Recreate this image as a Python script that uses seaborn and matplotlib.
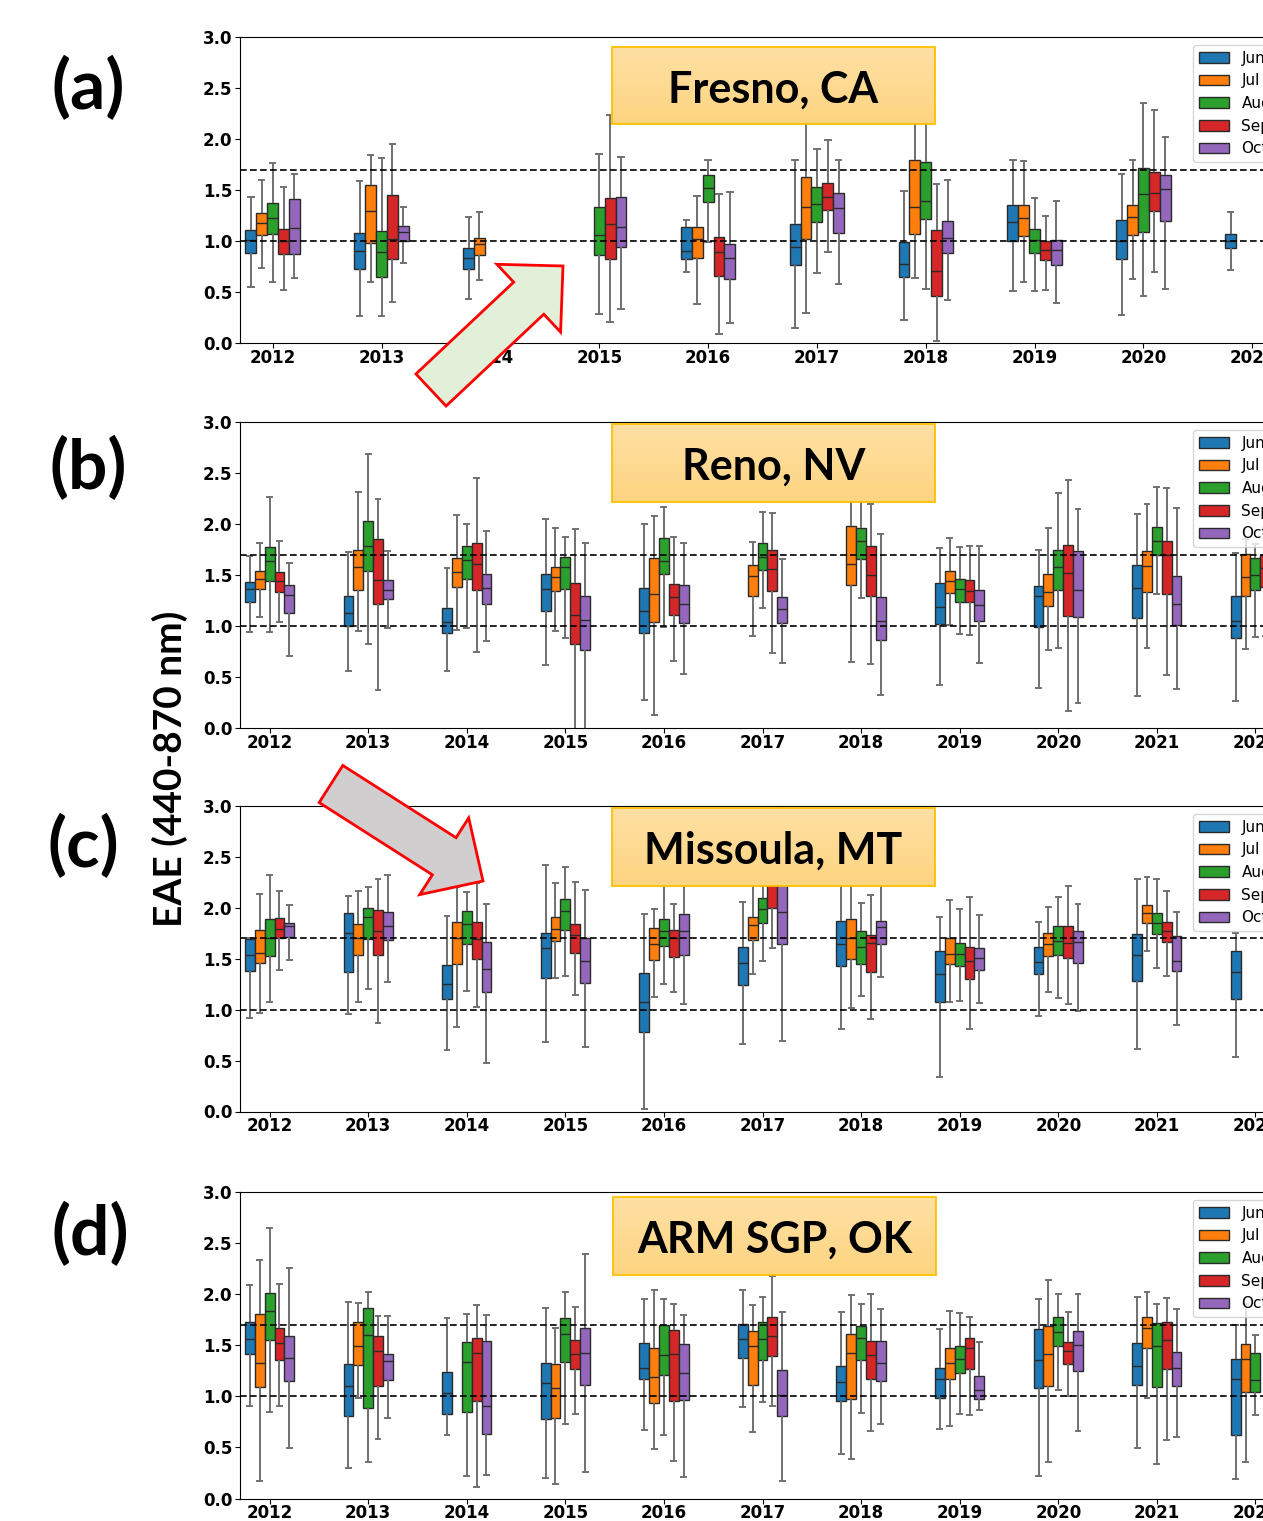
import numpy as np
import pandas as pd
import matplotlib
matplotlib.use("Agg")
import matplotlib.pyplot as plt
from matplotlib.patches import FancyArrow, Rectangle
import seaborn as sns

# ---------------------------------------------------------------- data
MONTHS = ["Jun", "Jul", "Aug", "Sep", "Oct"]
PALETTE = ["#1f77b4", "#ff7f0e", "#2ca02c", "#d62728", "#9467bd"]
YEARS_A = [str(y) for y in range(2012, 2022)]
YEARS_B = [str(y) for y in range(2012, 2023)]
YEARS_C = [str(y) for y in range(2012, 2023)]
YEARS_D = [str(y) for y in range(2012, 2023)]
TITLES = ["Fresno, CA", "Reno, NV", "Missoula, MT", "ARM SGP, OK"]
PANEL_LABELS = ["(a)", "(b)", "(c)", "(d)"]
Y_LABEL = "EAE (440-870 nm)"
Y_TICKS = [0.0, 0.5, 1.0, 1.5, 2.0, 2.5, 3.0]
REF_LINES = [1.0, 1.7]

# each entry: (lower whisker, Q1, median, Q3, upper whisker); None = no data
FRESNO_JUN = [(0.55, 0.88, 1.01, 1.11, 1.43), (0.26, 0.73, 0.90, 1.08, 1.59), (0.43, 0.73, 0.83, 0.93, 1.24), None,
              (0.70, 0.82, 0.90, 1.14, 1.21), (0.15, 0.76, 0.94, 1.17, 1.79), (0.23, 0.65, 0.77, 0.99, 1.49),
              (0.51, 1.00, 1.19, 1.35, 1.79), (0.27, 0.82, 1.00, 1.21, 1.66), (0.72, 0.93, 1.00, 1.07, 1.28)]
FRESNO_JUL = [(0.74, 1.06, 1.18, 1.27, 1.60), (0.60, 0.98, 1.29, 1.55, 1.84), (0.62, 0.86, 0.97, 1.03, 1.28), None,
              (0.38, 0.83, 1.02, 1.14, 1.44), (0.29, 1.02, 1.33, 1.63, 2.35), (0.64, 1.07, 1.33, 1.79, 2.30),
              (0.60, 1.05, 1.23, 1.35, 1.78), (0.63, 1.06, 1.24, 1.35, 1.79), None]
FRESNO_AUG = [(0.60, 1.07, 1.23, 1.37, 1.76), (0.26, 0.65, 0.89, 1.10, 1.81), None, (0.28, 0.86, 1.06, 1.33, 1.85),
              (0.99, 1.38, 1.52, 1.65, 1.79), (0.69, 1.19, 1.36, 1.53, 1.90), (0.53, 1.22, 1.39, 1.77, 2.25),
              (0.51, 0.88, 1.01, 1.12, 1.42), (0.46, 1.09, 1.46, 1.72, 2.35), None]
FRESNO_SEP = [(0.52, 0.87, 1.00, 1.12, 1.53), (0.40, 0.82, 1.02, 1.45, 1.95), None, (0.21, 0.82, 1.17, 1.42, 2.24),
              (0.09, 0.66, 0.89, 1.04, 1.46), (0.89, 1.30, 1.43, 1.57, 1.99), (0.02, 0.46, 0.71, 1.11, 1.56),
              (0.52, 0.81, 0.91, 1.00, 1.25), (0.70, 1.29, 1.47, 1.68, 2.28), None]
FRESNO_OCT = [(0.64, 0.87, 1.13, 1.41, 1.66), (0.78, 1.00, 1.09, 1.15, 1.33), None, (0.33, 0.94, 1.14, 1.43, 1.82),
              (0.20, 0.63, 0.83, 0.97, 1.48), (0.58, 1.08, 1.32, 1.47, 1.79), (0.42, 0.88, 1.03, 1.20, 1.60),
              (0.39, 0.76, 0.91, 1.01, 1.39), (0.53, 1.20, 1.51, 1.65, 2.02), None]

RENO_JUN = [(0.94, 1.24, 1.36, 1.43, 1.69), (0.56, 1.00, 1.13, 1.29, 1.73), (0.56, 0.93, 1.04, 1.18, 1.57),
            (0.62, 1.15, 1.36, 1.51, 2.05), (0.27, 0.93, 1.15, 1.37, 2.00), None, None,
            (0.42, 1.02, 1.19, 1.42, 1.76), (0.39, 0.99, 1.29, 1.39, 1.75), (0.31, 1.08, 1.37, 1.60, 2.10),
            (0.26, 0.88, 1.05, 1.29, 1.72)]
RENO_JUL = [(1.09, 1.36, 1.46, 1.54, 1.81), (0.95, 1.35, 1.58, 1.75, 2.31), (0.96, 1.38, 1.53, 1.67, 2.09),
            (0.95, 1.34, 1.48, 1.58, 1.96), (0.13, 1.04, 1.31, 1.67, 2.08), (0.90, 1.29, 1.49, 1.60, 1.82),
            (0.65, 1.40, 1.61, 1.98, 2.40), (1.01, 1.32, 1.44, 1.54, 1.86), (0.76, 1.20, 1.33, 1.51, 1.96),
            (0.78, 1.33, 1.59, 1.74, 2.20), (0.77, 1.29, 1.48, 1.71, 1.85)]
RENO_AUG = [(0.94, 1.44, 1.64, 1.77, 2.26), (0.82, 1.54, 1.78, 2.03, 2.69), (0.98, 1.46, 1.65, 1.78, 2.00),
            (0.88, 1.36, 1.58, 1.68, 1.87), (0.99, 1.51, 1.64, 1.86, 2.17), (1.18, 1.55, 1.68, 1.81, 2.12),
            (1.27, 1.66, 1.83, 1.96, 2.35), (0.92, 1.24, 1.36, 1.46, 1.77), (0.78, 1.35, 1.58, 1.75, 2.30),
            (1.31, 1.70, 1.83, 1.97, 2.36), (0.89, 1.35, 1.50, 1.67, 1.80)]
RENO_SEP = [(1.04, 1.33, 1.44, 1.53, 1.83), (0.37, 1.22, 1.45, 1.85, 2.25), (0.75, 1.35, 1.61, 1.81, 2.45),
            (-0.05, 0.82, 1.11, 1.42, 1.95), (0.66, 1.11, 1.28, 1.41, 1.87), (0.74, 1.34, 1.56, 1.75, 2.11),
            (0.63, 1.29, 1.50, 1.78, 2.20), (0.91, 1.24, 1.34, 1.45, 1.78), (0.17, 1.10, 1.52, 1.79, 2.43),
            (0.52, 1.31, 1.70, 1.83, 2.35), (0.90, 1.38, 1.57, 1.70, 1.90)]
RENO_OCT = [(0.71, 1.13, 1.30, 1.40, 1.62), (0.98, 1.26, 1.35, 1.45, 1.74), (0.85, 1.22, 1.37, 1.51, 1.93),
            (-0.05, 0.76, 1.06, 1.29, 1.81), (0.53, 1.03, 1.22, 1.40, 1.81), (0.64, 1.03, 1.17, 1.28, 1.66),
            (0.32, 0.86, 1.05, 1.28, 1.90), (0.64, 1.05, 1.21, 1.35, 1.78), (0.25, 1.09, 1.35, 1.74, 2.15),
            (0.38, 1.01, 1.22, 1.49, 2.16), None]

MISSOULA_JUN = [(0.92, 1.38, 1.54, 1.69, 1.70), (0.96, 1.37, 1.75, 1.95, 2.12), (0.60, 1.10, 1.25, 1.44, 1.92),
                (0.68, 1.31, 1.61, 1.75, 2.42), (0.02, 0.78, 1.08, 1.36, 1.94), (0.66, 1.24, 1.46, 1.62, 2.06),
                (0.81, 1.43, 1.64, 1.87, 2.30), (0.34, 1.08, 1.35, 1.58, 1.91), (0.94, 1.35, 1.47, 1.62, 1.86),
                (0.61, 1.28, 1.54, 1.74, 2.28), (0.54, 1.10, 1.37, 1.58, 1.75)]
MISSOULA_JUL = [(0.97, 1.46, 1.56, 1.78, 2.14), (1.08, 1.54, 1.70, 1.84, 2.17), (0.83, 1.45, 1.70, 1.86, 2.20),
                (1.31, 1.67, 1.79, 1.91, 2.24), (1.12, 1.49, 1.64, 1.80, 1.99), (1.35, 1.68, 1.83, 1.91, 2.45),
                (1.02, 1.50, 1.70, 1.89, 2.40), (1.08, 1.45, 1.55, 1.70, 2.08), (1.17, 1.53, 1.64, 1.75, 2.01),
                (1.58, 1.85, 1.95, 2.03, 2.30), None]
MISSOULA_AUG = [(1.08, 1.53, 1.70, 1.89, 2.32), (1.20, 1.69, 1.91, 2.00, 2.20), (1.18, 1.64, 1.84, 1.97, 2.16),
                (1.33, 1.78, 1.97, 2.09, 2.40), (1.25, 1.63, 1.77, 1.89, 2.25), (1.48, 1.85, 1.99, 2.10, 2.60),
                (1.13, 1.45, 1.62, 1.77, 2.05), (1.09, 1.43, 1.55, 1.65, 1.99), (1.11, 1.54, 1.67, 1.82, 2.11),
                (1.41, 1.74, 1.85, 1.95, 2.28), None]
MISSOULA_SEP = [(1.39, 1.70, 1.79, 1.90, 2.17), (0.87, 1.54, 1.77, 1.98, 2.28), (1.03, 1.50, 1.69, 1.86, 2.24),
                (1.14, 1.56, 1.73, 1.84, 2.25), (1.17, 1.52, 1.70, 1.78, 2.04), (1.61, 2.00, 2.30, 2.55, 2.90),
                (0.91, 1.37, 1.65, 1.73, 2.13), (0.81, 1.30, 1.48, 1.62, 2.11), (1.06, 1.51, 1.65, 1.82, 2.21),
                (1.33, 1.66, 1.77, 1.86, 2.17), None]
MISSOULA_OCT = [(1.49, 1.71, 1.82, 1.85, 2.03), (1.27, 1.68, 1.82, 1.96, 2.32), (0.48, 1.17, 1.40, 1.66, 2.04),
                (0.63, 1.26, 1.48, 1.70, 2.18), (1.06, 1.54, 1.77, 1.94, 2.30), (0.69, 1.64, 1.96, 2.30, 3.00),
                (1.32, 1.64, 1.81, 1.87, 2.25), (1.07, 1.39, 1.51, 1.61, 1.93), (0.99, 1.46, 1.66, 1.77, 2.04),
                (0.85, 1.38, 1.48, 1.72, 1.96), None]

SGP_JUN = [(0.91, 1.41, 1.56, 1.73, 2.09), (0.30, 0.81, 1.10, 1.32, 1.92), (0.62, 0.83, 1.03, 1.24, 1.77),
           (0.20, 0.78, 1.13, 1.33, 1.86), (0.67, 1.17, 1.28, 1.52, 1.95), (0.90, 1.38, 1.56, 1.71, 2.04),
           (0.44, 0.95, 1.14, 1.30, 1.83), (0.68, 0.98, 1.17, 1.28, 1.66), (0.22, 1.08, 1.36, 1.66, 1.95),
           (0.49, 1.11, 1.30, 1.52, 1.97), (0.19, 0.62, 1.17, 1.37, 1.70)]
SGP_JUL = [(0.17, 1.09, 1.33, 1.81, 2.33), (0.98, 1.31, 1.49, 1.73, 1.91), None,
           (0.14, 0.79, 1.08, 1.32, 1.67), (0.48, 0.93, 1.19, 1.47, 2.04), (0.65, 1.11, 1.49, 1.64, 1.89),
           (0.39, 0.97, 1.42, 1.61, 1.99), (0.71, 1.17, 1.33, 1.47, 1.84), (0.36, 1.10, 1.41, 1.69, 2.14),
           (0.98, 1.47, 1.67, 1.78, 2.02), (0.36, 1.04, 1.37, 1.51, 1.90)]
SGP_AUG = [(0.85, 1.55, 1.84, 2.01, 2.65), (0.36, 0.89, 1.60, 1.86, 2.02), (0.22, 0.85, 1.34, 1.53, 1.81),
           (0.73, 1.34, 1.61, 1.77, 2.02), (0.62, 1.21, 1.40, 1.70, 1.95), (0.94, 1.36, 1.56, 1.73, 1.97),
           (0.84, 1.36, 1.57, 1.69, 1.90), (0.83, 1.23, 1.37, 1.49, 1.82), (1.06, 1.49, 1.63, 1.78, 2.00),
           (0.34, 1.09, 1.49, 1.72, 1.90), (0.82, 1.04, 1.16, 1.42, 1.60)]
SGP_SEP = [(0.91, 1.36, 1.52, 1.67, 2.10), (0.58, 1.10, 1.44, 1.59, 1.79), (0.11, 0.95, 1.42, 1.57, 1.89),
           (0.83, 1.27, 1.41, 1.55, 1.87), (0.37, 0.95, 1.41, 1.65, 1.90), (0.91, 1.39, 1.59, 1.78, 2.18),
           (0.66, 1.17, 1.40, 1.54, 2.00), (0.82, 1.27, 1.47, 1.57, 1.78), (1.00, 1.32, 1.44, 1.53, 1.83),
           (0.57, 1.27, 1.55, 1.73, 1.96), None]
SGP_OCT = [(0.49, 1.15, 1.38, 1.59, 2.26), (0.79, 1.16, 1.35, 1.41, 1.79), (0.23, 0.63, 0.91, 1.54, 1.80),
           (0.26, 1.11, 1.42, 1.67, 2.39), (0.21, 0.96, 1.23, 1.51, 1.80), (0.17, 0.81, 1.01, 1.26, 1.83),
           (0.73, 1.15, 1.33, 1.54, 1.85), (0.87, 0.97, 1.06, 1.20, 1.53), (0.66, 1.25, 1.50, 1.64, 2.00),
           (0.60, 1.10, 1.28, 1.43, 1.85), None]

PANELS = [
    (YEARS_A, [FRESNO_JUN, FRESNO_JUL, FRESNO_AUG, FRESNO_SEP, FRESNO_OCT]),
    (YEARS_B, [RENO_JUN, RENO_JUL, RENO_AUG, RENO_SEP, RENO_OCT]),
    (YEARS_C, [MISSOULA_JUN, MISSOULA_JUL, MISSOULA_AUG, MISSOULA_SEP, MISSOULA_OCT]),
    (YEARS_D, [SGP_JUN, SGP_JUL, SGP_AUG, SGP_SEP, SGP_OCT]),
]


def long_frame(years, series):
    rows = []
    for month, stats in zip(MONTHS, series):
        for year, s in zip(years, stats):
            if s is None:
                continue
            for v in s:
                rows.append((year, month, v))
    return pd.DataFrame(rows, columns=["year", "month", "EAE"])


# ---------------------------------------------------------------- layout
W, H = 1263, 1521
fig = plt.figure(figsize=(W / 100, H / 100), dpi=100)

AX_LEFT, AX_RIGHT = 240, 1285          # pixel positions of axes edges
PANEL_Y = [(37, 343), (422, 728), (806, 1111.5), (1192, 1498.5)]  # (top, bottom) pixels

LABEL_FONT = ["Lato", "DejaVu Sans"]

for i, ((years, series), (ytop, ybot)) in enumerate(zip(PANELS, PANEL_Y)):
    ax = fig.add_axes([AX_LEFT / W, 1 - ybot / H, (AX_RIGHT - AX_LEFT) / W, (ybot - ytop) / H])
    df = long_frame(years, series)
    sns.boxplot(data=df, x="year", y="EAE", hue="month", order=years, hue_order=MONTHS,
                palette=PALETTE, saturation=1, width=0.5, whis=(0, 100), fliersize=0,
                linewidth=1.0, linecolor="#2a2a2a", ax=ax,
                whiskerprops=dict(color="#707070", linewidth=1.4),
                capprops=dict(color="#707070", linewidth=1.4))
    for yv in REF_LINES:
        ax.axhline(yv, color="black", ls=(0, (4, 2)), lw=1.2, zorder=5)
    ax.set_ylim(0, 3)
    ax.set_xlim(-0.3, len(years) - 0.7)
    ax.set_yticks(Y_TICKS)
    ax.set_yticklabels([f"{t:.1f}" for t in Y_TICKS])
    ax.set_xlabel("")
    ax.set_ylabel("")
    ax.tick_params(labelsize=12)
    ax.tick_params(axis="x", pad=0.5)
    ax.tick_params(axis="y", pad=2.0)
    for lab in ax.get_xticklabels() + ax.get_yticklabels():
        lab.set_fontweight("bold")
    handles, labels = ax.get_legend_handles_labels()
    ax.legend(handles, labels, loc="upper right", fontsize=11)

# ---------------------------------------------------------------- overlay (annotations)
ov = fig.add_axes([0, 0, 1, 1], zorder=20)
ov.patch.set_visible(False)
ov.axis("off")

TITLE_BOXES = [(612, 47, 935, 124), (612, 424, 935, 502), (612, 808, 935, 886), (613, 1197, 936, 1275)]
top_c = np.array([255, 224, 165]) / 255
bot_c = np.array([253, 212, 128]) / 255
grad = np.linspace(0, 1, 64)[:, None, None] * (bot_c - top_c) + top_c
for title, (x0, y0, x1, y1) in zip(TITLES, TITLE_BOXES):
    ov.imshow(grad, extent=(x0, x1, y1, y0), origin="upper", aspect="auto", zorder=1)
    ov.add_patch(Rectangle((x0, y0), x1 - x0, y1 - y0, fill=False, ec="#FFC000", lw=1.3, zorder=2))
    ov.text((x0 + x1) / 2, (y0 + y1) / 2 + 4, title, ha="center", va="center",
            fontsize=31, fontweight="bold", family=LABEL_FONT, zorder=3)

LABEL_POS = [(88, 89), (88, 468), (83, 846), (90, 1235)]
for lab, (x, y) in zip(PANEL_LABELS, LABEL_POS):
    ov.text(x, y, lab, ha="center", va="center", fontsize=50, fontweight="bold", family=LABEL_FONT)

ov.text(170, 769, Y_LABEL, ha="center", va="center", rotation=90, fontsize=28,
        fontweight="bold", family=LABEL_FONT)

# arrows: (tail centre, tip) in pixels
ov.add_patch(FancyArrow(431, 390, 132, -124, width=44, head_width=93, head_length=47,
                        length_includes_head=True, fc="#E2F0D9", ec="#FF0000", lw=2, zorder=4))
ov.add_patch(FancyArrow(331, 784, 152, 97, width=44, head_width=91, head_length=46,
                        length_includes_head=True, fc="#D0CECE", ec="#FF0000", lw=2, zorder=4))

ov.set_xlim(0, W)
ov.set_ylim(H, 0)

fig.savefig("out.png", dpi=100)
